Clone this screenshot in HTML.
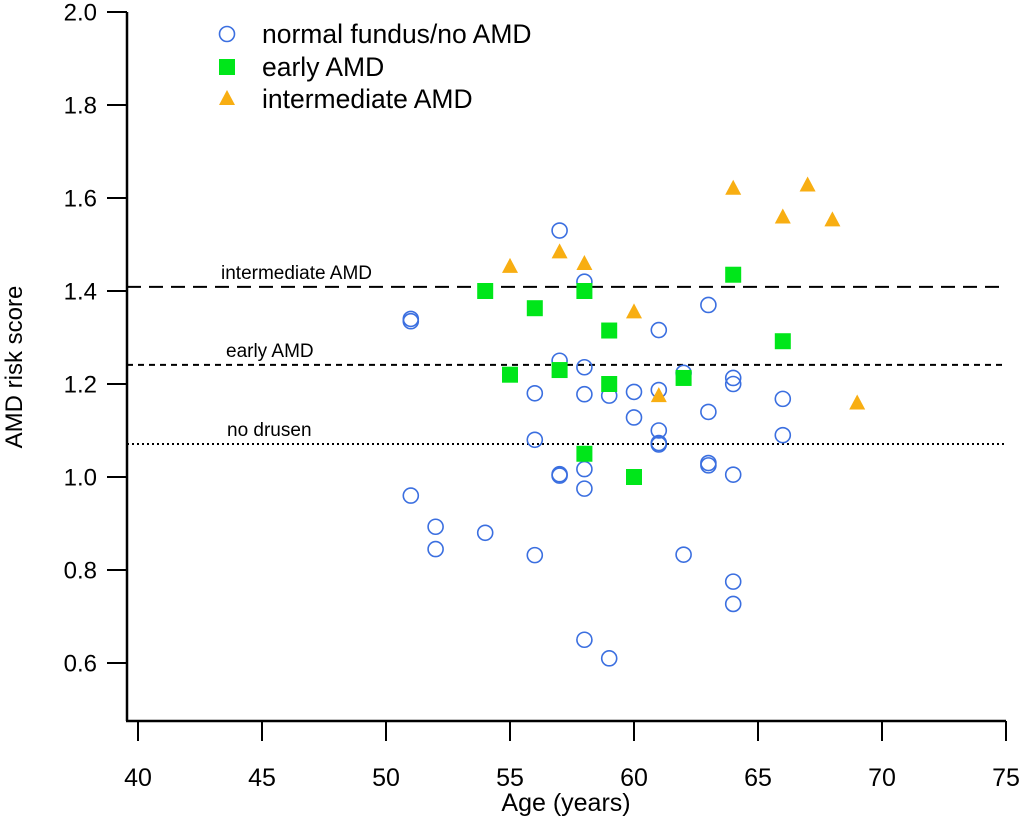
<!DOCTYPE html>
<html><head><meta charset="utf-8"><style>
body{margin:0;background:#fff}
svg{display:block;font-family:"Liberation Sans",Arial,sans-serif}
</style></head><body>
<svg id="chart" width="1024" height="820" viewBox="0 0 1024 820">
<g id="axes"></g>
<g id="lines"></g>
<g id="marks"></g>
<g id="legend"></g>
<text transform="translate(22,367) rotate(-90)" text-anchor="middle" font-size="24">AMD risk score</text>
<text x="566" y="811" text-anchor="middle" font-size="25">Age (years)</text>
</svg>
<script>
const xTicks=[40,45,50,55,60,65,70,75];
const yTicks=[0.6,0.8,1.0,1.2,1.4,1.6,1.8,2.0];
const normalAge=[51,51,51,52,52,54,56,56,56,57,57,57,57,58,58,58,58,58,58,59,59,60,60,61,61,61,61,61,62,62,63,63,63,63,64,64,64,64,64,66,66];
const normalScore=[1.34,1.335,0.96,0.893,0.845,0.88,1.18,1.08,0.832,1.53,1.25,1.006,1.003,1.42,1.236,1.178,1.017,0.975,0.65,1.175,0.61,1.183,1.128,1.316,1.187,1.1,1.073,1.07,1.224,0.833,1.37,1.14,1.03,1.025,1.213,1.2,1.005,0.775,0.727,1.168,1.09];
const earlyAge=[54,55,56,57,58,58,59,59,60,62,64,66];
const earlyScore=[1.40,1.22,1.363,1.23,1.40,1.05,1.315,1.2,1.0,1.213,1.435,1.292];
const interAge=[55,57,58,60,61,64,66,67,68,69];
const interScore=[1.452,1.483,1.458,1.354,1.174,1.62,1.558,1.627,1.552,1.158];
const thresholdNames=["intermediate AMD","early AMD","no drusen"];
const thresholdValues=[1.409,1.241,1.071];

const NS="http://www.w3.org/2000/svg";
const X=v=>138+(v-40)*868/35;
const Y=v=>12+(2.0-v)*465;
function mk(tag,attrs,parent){const e=document.createElementNS(NS,tag);for(const k in attrs)e.setAttribute(k,attrs[k]);parent.appendChild(e);return e;}
const axes=document.getElementById('axes');
let e=mk('line',{x1:127,y1:12,x2:127,y2:721,stroke:'#000','stroke-width':2.5},axes);


e=mk('line',{x1:126,y1:721,x2:1006,y2:721,stroke:'#000','stroke-width':2.5},axes);


xTicks.forEach(t=>{
  const l=mk('line',{x1:X(t),y1:721,x2:X(t),y2:741,stroke:'#000','stroke-width':2},axes);
  
  
  const tx=mk('text',{x:X(t),y:786,'text-anchor':'middle','font-size':25},axes);
  tx.textContent=t;
  
  
});
yTicks.forEach(t=>{
  const l=mk('line',{x1:107,y1:Y(t),x2:127,y2:Y(t),stroke:'#000','stroke-width':2},axes);
  
  
  const tx=mk('text',{x:97,y:Y(t)+8.5,'text-anchor':'end','font-size':24},axes);
  tx.textContent=t.toFixed(1);
  
  
});
const lines=document.getElementById('lines');
const dashes=['14,8','6,5','2,3'];
const lblX=[221,226,227];
thresholdValues.forEach((v,i)=>{
  const l=mk('line',{x1:127,y1:Y(v),x2:1006,y2:Y(v),stroke:'#000','stroke-width':2,'stroke-dasharray':dashes[i]},lines);
  
  
  const tx=mk('text',{x:lblX[i],y:Y(v)-8,'font-size':19},lines);
  tx.textContent=thresholdNames[i];
  
  
});
const marks=document.getElementById('marks');
function circle(cx,cy,p){return mk('circle',{cx:cx,cy:cy,r:7.5,fill:'none',stroke:'#3b6fe0','stroke-width':1.6},p);}
function square(cx,cy,p){return mk('rect',{x:cx-8,y:cy-8,width:16,height:16,fill:'#00e61a'},p);}
function tri(cx,cy,p){return mk('polygon',{points:`${cx},${cy-9} ${cx+8},${cy+6} ${cx-8},${cy+6}`,fill:'#f8ae12'},p);}
normalAge.forEach((a,i)=>{const m=circle(X(a),Y(normalScore[i]),marks);
  
  });
earlyAge.forEach((a,i)=>{const m=square(X(a),Y(earlyScore[i]),marks);
  
  });
interAge.forEach((a,i)=>{const m=tri(X(a),Y(interScore[i]),marks);
  
  });
const lg=document.getElementById('legend');
const legNames=["normal fundus/no AMD","early AMD","intermediate AMD"];
const legY=[34,67,99];
const fns=[circle,square,tri];
legNames.forEach((n,i)=>{
  const m=fns[i](227,legY[i],lg);
  
  
  const tx=mk('text',{x:262,y:legY[i]+9,'font-size':26.5},lg);
  tx.textContent=n;
  
  
});
</script>
</body></html>
